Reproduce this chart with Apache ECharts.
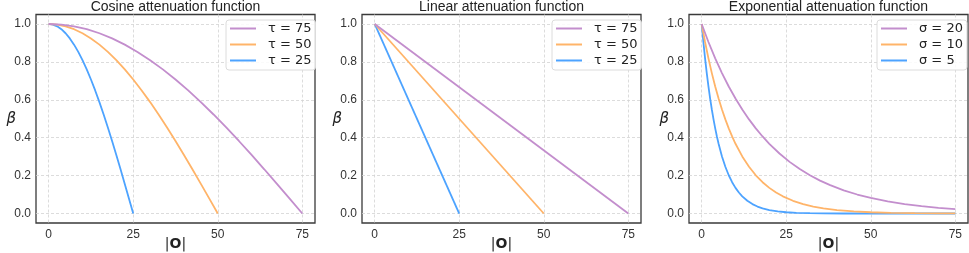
<!DOCTYPE html>
<html>
<head>
<meta charset="utf-8">
<script src="https://cdn.jsdelivr.net/npm/echarts@6/dist/echarts.min.js"></script>
<style>
html,body{margin:0;padding:0;background:#fff;}
#c{width:969px;height:253px;}
</style>
</head>
<body>
<div id="c"></div>
<script>
// ---- data ----
const panelTitles = ['Cosine attenuation function', 'Linear attenuation function', 'Exponential attenuation function'];
const xTicks = [0, 25, 50, 75];
const yTicks = [0, 0.2, 0.4, 0.6, 0.8, 1.0];
const cosNames = ['τ = 75', 'τ = 50', 'τ = 25'];
const linNames = ['τ = 75', 'τ = 50', 'τ = 25'];
const expNames = ['σ = 20', 'σ = 10', 'σ = 5'];

const cos75 = [[0,1],[3.75,0.9969],[7.5,0.9877],[11.25,0.9724],[15,0.9511],[18.75,0.9239],[22.5,0.8910],[26.25,0.8526],[30,0.8090],[33.75,0.7604],[37.5,0.7071],[41.25,0.6494],[45,0.5878],[48.75,0.5225],[52.5,0.4540],[56.25,0.3827],[60,0.3090],[63.75,0.2334],[67.5,0.1564],[71.25,0.0785],[75,0]];
const cos50 = [[0,1],[2.5,0.9969],[5,0.9877],[7.5,0.9724],[10,0.9511],[12.5,0.9239],[15,0.8910],[17.5,0.8526],[20,0.8090],[22.5,0.7604],[25,0.7071],[27.5,0.6494],[30,0.5878],[32.5,0.5225],[35,0.4540],[37.5,0.3827],[40,0.3090],[42.5,0.2334],[45,0.1564],[47.5,0.0785],[50,0]];
const cos25 = [[0,1],[1.25,0.9969],[2.5,0.9877],[3.75,0.9724],[5,0.9511],[6.25,0.9239],[7.5,0.8910],[8.75,0.8526],[10,0.8090],[11.25,0.7604],[12.5,0.7071],[13.75,0.6494],[15,0.5878],[16.25,0.5225],[17.5,0.4540],[18.75,0.3827],[20,0.3090],[21.25,0.2334],[22.5,0.1564],[23.75,0.0785],[25,0]];

const lin75 = [[0,1],[75,0]];
const lin50 = [[0,1],[50,0]];
const lin25 = [[0,1],[25,0]];

const exp20 = [[0,1],[2,0.9048],[4,0.8187],[6,0.7408],[8,0.6703],[10,0.6065],[12,0.5488],[14,0.4966],[16,0.4493],[18,0.4066],[20,0.3679],[23,0.3166],[26,0.2725],[29,0.2346],[32,0.2019],[35,0.1738],[38,0.1496],[42,0.1225],[46,0.1003],[50,0.0821],[55,0.0639],[60,0.0498],[65,0.0388],[70,0.0302],[75,0.0235]];
const exp10 = [[0,1],[1,0.9048],[2,0.8187],[3,0.7408],[4,0.6703],[5,0.6065],[6,0.5488],[7,0.4966],[8,0.4493],[9,0.4066],[10,0.3679],[12,0.3012],[14,0.2466],[16,0.2019],[18,0.1653],[20,0.1353],[22,0.1108],[24,0.0907],[27,0.0672],[30,0.0498],[33,0.0369],[36,0.0273],[40,0.0183],[45,0.0111],[50,0.0067],[56,0.0037],[63,0.0018],[70,0.0009],[75,0.0006]];
const exp5 = [[0,1],[0.5,0.9048],[1,0.8187],[1.5,0.7408],[2,0.6703],[2.5,0.6065],[3,0.5488],[3.5,0.4966],[4,0.4493],[4.5,0.4066],[5,0.3679],[6,0.3012],[7,0.2466],[8,0.2019],[9,0.1653],[10,0.1353],[11,0.1108],[12,0.0907],[13.5,0.0672],[15,0.0498],[16.5,0.0369],[18,0.0273],[20,0.0183],[22.5,0.0111],[25,0.0067],[28,0.0037],[32,0.0017],[36,0.0007],[42,0.0002],[50,0.0000],[60,0],[75,0]];

// ---- styling ----
const colors = ['#c38ecd', '#ffb469', '#4da3ff'];
const gridLefts = [36, 362, 689];
const gridW = 279, gridTop = 14.5, gridH = 208.5;
const xMin = -3.75, xMax = 78.75, yMin = -0.05, yMax = 1.05;
const fontMain = 'Liberation Sans, Arial, sans-serif';

const grids = [], xAxes = [], yAxes = [], series = [], legends = [];
const panelData = [[cos75, cos50, cos25], [lin75, lin50, lin25], [exp20, exp10, exp5]];
const panelNames = [cosNames, linNames, expNames];
const legendLefts = [226, 552, 877];

for (let p = 0; p < 3; p++) {
  grids.push({left: gridLefts[p], top: gridTop, width: gridW, height: gridH, outerBoundsMode: 'none', containLabel: false,
    show: true, borderColor: '#3a3a3a', borderWidth: 1.3, backgroundColor: '#fff'});
  xAxes.push({type: 'value', gridIndex: p, min: xMin, max: xMax,
    axisLine: {show: false}, axisTick: {show: false, customValues: xTicks},
    axisLabel: {customValues: xTicks, color: '#333', fontSize: 12, fontFamily: fontMain, margin: 6,
      formatter: v => String(v)},
    splitLine: {show: true, lineStyle: {color: '#d3d3d3', type: [3, 2], width: 0.8}},
    name: '|{b|O}|', nameLocation: 'middle', nameGap: 14, nameMoveOverlap: false,
    nameTextStyle: {fontSize: 14, color: '#222', fontFamily: 'DejaVu Sans, sans-serif',
      rich: {b: {fontWeight: 'bold', fontSize: 14, color: '#222', fontFamily: 'DejaVu Sans, sans-serif'}}}
  });
  yAxes.push({type: 'value', gridIndex: p, min: yMin, max: yMax,
    axisLine: {show: false}, axisTick: {show: false, customValues: yTicks},
    axisLabel: {customValues: yTicks, color: '#333', fontSize: 12, fontFamily: fontMain, margin: 5,
      formatter: v => v.toFixed(1)},
    splitLine: {show: true, lineStyle: {color: '#d3d3d3', type: [3, 2], width: 0.8}},
    name: 'β', nameLocation: 'middle', nameRotate: 0, nameGap: 20, nameMoveOverlap: false,
    nameTextStyle: {fontSize: 15, fontStyle: 'italic', color: '#222', fontFamily: 'DejaVu Sans, sans-serif'}
  });
  for (let s = 0; s < 3; s++) {
    series.push({type: 'line', name: panelNames[p][s], xAxisIndex: p, yAxisIndex: p,
      data: panelData[p][s], symbol: 'none', smooth: false,
      lineStyle: {color: colors[s], width: 1.8}, itemStyle: {color: colors[s]}, z: 3 - s, animation: false});
  }
  legends.push({left: legendLefts[p], top: 20, orient: 'vertical',
    data: panelNames[p], itemWidth: 26, itemHeight: 14, itemGap: 3,
    icon: 'path://M0,0 L26,0 L26,2 L0,2 Z',
    padding: [2, 4, 3, 4], backgroundColor: 'rgba(255,255,255,0.85)', borderColor: '#dcdcdc', borderWidth: 1, borderRadius: 3,
    selectedMode: false,
    textStyle: {fontSize: 13, color: '#222', fontFamily: 'DejaVu Sans, sans-serif', padding: [0, 0, 0, 7]}
  });
}

const chart = echarts.init(document.getElementById('c'), null, {renderer: 'canvas'});
chart.setOption({
  animation: false,
  backgroundColor: '#fff',
  title: panelTitles.map((t, i) => ({text: t, left: gridLefts[i] + gridW / 2, top: 0, padding: 0, textAlign: 'center',
    textStyle: {fontSize: 14, fontWeight: 'normal', color: '#222', fontFamily: fontMain, lineHeight: 14}})),
  grid: grids, xAxis: xAxes, yAxis: yAxes, series: series, legend: legends
});
</script>
</body>
</html>
